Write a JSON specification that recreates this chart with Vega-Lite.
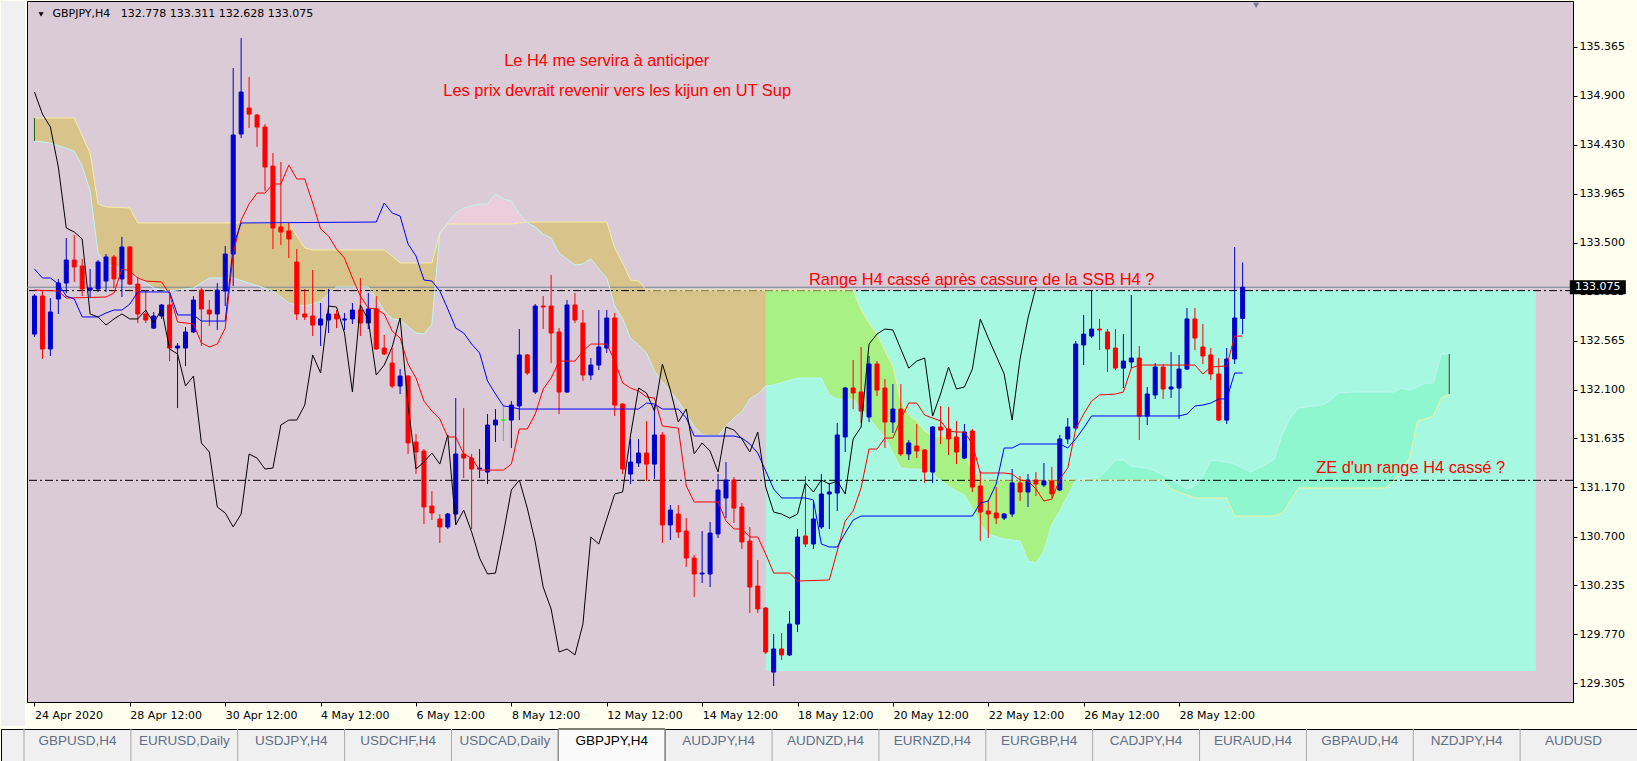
{
"$schema":"https://vega.github.io/schema/vega-lite/v6.json",
"background":"#FFFFF0",
"padding":0,
"autosize":{"type":"pad"},
"config":{"view":{"stroke":null},"font":"DejaVu Sans"},
"datasets":{
"candles":[
{"i":0,"o":132.629,"h":133.010,"l":132.601,"c":132.991,"ck":134.934},
{"i":1,"o":132.991,"h":133.039,"l":132.392,"c":132.487,"ck":134.724},
{"i":2,"o":132.487,"h":132.972,"l":132.420,"c":132.839,"ck":134.601},
{"i":3,"o":132.963,"h":133.154,"l":132.820,"c":133.115,"ck":134.220},
{"i":4,"o":133.115,"h":133.544,"l":133.020,"c":133.334,"ck":133.639},
{"i":5,"o":133.334,"h":133.573,"l":133.125,"c":133.268,"ck":133.601},
{"i":6,"o":133.277,"h":133.344,"l":132.991,"c":133.058,"ck":133.535},
{"i":7,"o":133.048,"h":133.249,"l":132.972,"c":133.067,"ck":132.820},
{"i":8,"o":133.058,"h":133.334,"l":133.030,"c":133.315,"ck":132.792},
{"i":9,"o":133.134,"h":133.391,"l":133.030,"c":133.363,"ck":132.715},
{"i":10,"o":133.363,"h":133.382,"l":133.067,"c":133.154,"ck":132.773},
{"i":11,"o":133.154,"h":133.554,"l":132.982,"c":133.458,"ck":132.820},
{"i":12,"o":133.458,"h":133.467,"l":133.096,"c":133.105,"ck":132.773},
{"i":13,"o":133.105,"h":133.173,"l":132.734,"c":132.820,"ck":132.773},
{"i":14,"o":132.820,"h":133.048,"l":132.734,"c":132.763,"ck":132.858},
{"i":15,"o":132.686,"h":132.839,"l":132.677,"c":132.801,"ck":132.734},
{"i":16,"o":132.801,"h":132.915,"l":132.773,"c":132.906,"ck":132.868},
{"i":17,"o":132.906,"h":133.010,"l":132.372,"c":132.496,"ck":132.487},
{"i":18,"o":132.496,"h":132.544,"l":131.924,"c":132.515,"ck":132.439},
{"i":19,"o":132.496,"h":132.696,"l":132.324,"c":132.649,"ck":132.134},
{"i":20,"o":132.649,"h":132.991,"l":132.639,"c":132.953,"ck":132.229},
{"i":21,"o":133.048,"h":133.067,"l":132.515,"c":132.868,"ck":131.592},
{"i":22,"o":132.858,"h":132.953,"l":132.706,"c":132.820,"ck":131.506},
{"i":23,"o":132.820,"h":133.115,"l":132.668,"c":133.048,"ck":130.982},
{"i":24,"o":133.039,"h":133.467,"l":132.896,"c":133.391,"ck":130.925},
{"i":25,"o":133.391,"h":135.163,"l":133.087,"c":134.525,"ck":130.792},
{"i":26,"o":134.534,"h":135.448,"l":134.496,"c":134.934,"ck":130.915},
{"i":27,"o":134.782,"h":135.077,"l":134.591,"c":134.724,"ck":131.487},
{"i":28,"o":134.715,"h":134.724,"l":134.411,"c":134.601,"ck":131.448},
{"i":29,"o":134.601,"h":134.629,"l":133.991,"c":134.220,"ck":131.344},
{"i":30,"o":134.229,"h":134.353,"l":133.439,"c":133.639,"ck":131.353},
{"i":31,"o":133.649,"h":134.268,"l":133.477,"c":133.601,"ck":131.763},
{"i":32,"o":133.611,"h":133.687,"l":133.353,"c":133.535,"ck":131.810},
{"i":33,"o":133.315,"h":133.439,"l":132.763,"c":132.820,"ck":131.810},
{"i":34,"o":132.820,"h":133.058,"l":132.763,"c":132.792,"ck":131.953},
{"i":35,"o":132.801,"h":133.239,"l":132.610,"c":132.715,"ck":132.430},
{"i":36,"o":132.715,"h":132.925,"l":132.515,"c":132.773,"ck":132.258},
{"i":37,"o":132.763,"h":133.058,"l":132.639,"c":132.820,"ck":132.896},
{"i":38,"o":132.820,"h":132.858,"l":132.686,"c":132.773,"ck":132.887},
{"i":39,"o":132.763,"h":132.830,"l":132.668,"c":132.773,"ck":132.639},
{"i":40,"o":132.773,"h":132.925,"l":132.725,"c":132.858,"ck":132.077},
{"i":41,"o":132.858,"h":133.163,"l":132.610,"c":132.734,"ck":132.906},
{"i":42,"o":132.734,"h":133.020,"l":132.677,"c":132.868,"ck":132.763},
{"i":43,"o":132.868,"h":132.991,"l":132.477,"c":132.487,"ck":132.239},
{"i":44,"o":132.496,"h":132.620,"l":132.430,"c":132.439,"ck":132.334},
{"i":45,"o":132.353,"h":132.496,"l":132.115,"c":132.134,"ck":132.506},
{"i":46,"o":132.134,"h":132.296,"l":132.058,"c":132.229,"ck":132.782},
{"i":47,"o":132.229,"h":132.239,"l":131.487,"c":131.592,"ck":131.953},
{"i":48,"o":131.601,"h":131.677,"l":131.296,"c":131.506,"ck":131.344},
{"i":49,"o":131.515,"h":131.534,"l":130.820,"c":130.982,"ck":131.410},
{"i":50,"o":130.991,"h":131.134,"l":130.858,"c":130.925,"ck":131.496},
{"i":51,"o":130.868,"h":130.915,"l":130.639,"c":130.792,"ck":131.391},
{"i":52,"o":130.792,"h":130.925,"l":130.773,"c":130.915,"ck":131.668},
{"i":53,"o":130.915,"h":132.020,"l":130.820,"c":131.487,"ck":130.811},
{"i":54,"o":131.487,"h":131.924,"l":131.258,"c":131.448,"ck":130.953},
{"i":55,"o":131.448,"h":131.487,"l":130.773,"c":131.344,"ck":130.744},
{"i":56,"o":131.344,"h":131.534,"l":131.258,"c":131.353,"ck":130.496},
{"i":57,"o":131.315,"h":131.867,"l":131.201,"c":131.763,"ck":130.344},
{"i":58,"o":131.763,"h":131.915,"l":131.601,"c":131.810,"ck":130.353},
{"i":59,"o":131.810,"h":131.944,"l":131.611,"c":131.810,"ck":130.734},
{"i":60,"o":131.810,"h":131.991,"l":131.544,"c":131.953,"ck":131.144},
{"i":61,"o":131.944,"h":132.677,"l":131.810,"c":132.430,"ck":131.239},
{"i":62,"o":132.430,"h":132.439,"l":132.239,"c":132.258,"ck":130.972},
{"i":63,"o":132.077,"h":132.915,"l":132.058,"c":132.896,"ck":130.649},
{"i":64,"o":132.896,"h":132.991,"l":132.677,"c":132.887,"ck":130.220},
{"i":65,"o":132.896,"h":133.192,"l":132.353,"c":132.639,"ck":130.011},
{"i":66,"o":132.649,"h":132.686,"l":131.867,"c":132.077,"ck":129.601},
{"i":67,"o":132.077,"h":132.953,"l":132.068,"c":132.906,"ck":129.630},
{"i":68,"o":132.906,"h":133.020,"l":132.734,"c":132.763,"ck":129.573},
{"i":69,"o":132.734,"h":132.858,"l":132.182,"c":132.239,"ck":129.867},
{"i":70,"o":132.239,"h":132.401,"l":132.191,"c":132.334,"ck":130.696},
{"i":71,"o":132.334,"h":132.858,"l":132.286,"c":132.506,"ck":130.630},
{"i":72,"o":132.496,"h":132.858,"l":132.449,"c":132.782,"ck":130.868},
{"i":73,"o":132.782,"h":132.830,"l":131.848,"c":131.953,"ck":131.106},
{"i":74,"o":131.962,"h":131.972,"l":131.296,"c":131.344,"ck":131.125},
{"i":75,"o":131.296,"h":131.630,"l":131.201,"c":131.410,"ck":131.668},
{"i":76,"o":131.401,"h":131.630,"l":131.363,"c":131.496,"ck":132.115},
{"i":77,"o":131.496,"h":131.801,"l":131.230,"c":131.391,"ck":132.068},
{"i":78,"o":131.391,"h":131.953,"l":131.249,"c":131.668,"ck":131.896},
{"i":79,"o":131.668,"h":131.696,"l":130.639,"c":130.811,"ck":132.344},
{"i":80,"o":130.811,"h":131.001,"l":130.668,"c":130.953,"ck":132.096},
{"i":81,"o":130.915,"h":131.001,"l":130.687,"c":130.744,"ck":131.791},
{"i":82,"o":130.753,"h":130.877,"l":130.411,"c":130.496,"ck":131.915},
{"i":83,"o":130.496,"h":130.525,"l":130.125,"c":130.344,"ck":131.487},
{"i":84,"o":130.344,"h":130.753,"l":130.258,"c":130.353,"ck":131.592},
{"i":85,"o":130.344,"h":130.839,"l":130.220,"c":130.734,"ck":131.515},
{"i":86,"o":130.725,"h":131.296,"l":130.687,"c":131.144,"ck":131.315},
{"i":87,"o":131.068,"h":131.410,"l":130.877,"c":131.239,"ck":131.744},
{"i":88,"o":131.239,"h":131.268,"l":130.830,"c":130.972,"ck":131.715},
{"i":89,"o":130.982,"h":131.020,"l":130.582,"c":130.649,"ck":131.630},
{"i":90,"o":130.658,"h":130.792,"l":129.972,"c":130.220,"ck":131.506},
{"i":91,"o":130.229,"h":130.477,"l":129.972,"c":130.011,"ck":131.696},
{"i":92,"o":130.020,"h":130.030,"l":129.582,"c":129.601,"ck":131.172},
{"i":93,"o":129.410,"h":129.772,"l":129.277,"c":129.630,"ck":130.934},
{"i":94,"o":129.630,"h":129.782,"l":129.525,"c":129.573,"ck":130.915},
{"i":95,"o":129.573,"h":129.991,"l":129.563,"c":129.867,"ck":130.877},
{"i":96,"o":129.867,"h":130.773,"l":129.791,"c":130.696,"ck":130.915},
{"i":97,"o":130.706,"h":131.277,"l":130.601,"c":130.630,"ck":131.211},
{"i":98,"o":130.630,"h":131.039,"l":130.582,"c":130.868,"ck":131.125},
{"i":99,"o":130.792,"h":131.296,"l":130.773,"c":131.106,"ck":131.239},
{"i":100,"o":131.106,"h":131.211,"l":130.773,"c":131.125,"ck":131.201},
{"i":101,"o":131.115,"h":131.782,"l":130.944,"c":131.668,"ck":131.230},
{"i":102,"o":131.649,"h":132.125,"l":131.506,"c":132.115,"ck":131.106},
{"i":103,"o":132.115,"h":132.382,"l":131.915,"c":132.068,"ck":131.630},
{"i":104,"o":132.077,"h":132.506,"l":131.782,"c":131.896,"ck":131.744},
{"i":105,"o":131.839,"h":132.420,"l":131.791,"c":132.344,"ck":132.534},
{"i":106,"o":132.344,"h":132.372,"l":132.039,"c":132.096,"ck":132.629},
{"i":107,"o":132.115,"h":132.201,"l":131.544,"c":131.791,"ck":132.677},
{"i":108,"o":131.791,"h":132.153,"l":131.687,"c":131.915,"ck":132.668},
{"i":109,"o":131.915,"h":132.153,"l":131.468,"c":131.487,"ck":132.487},
{"i":110,"o":131.487,"h":131.620,"l":131.430,"c":131.592,"ck":132.305},
{"i":111,"o":131.563,"h":131.772,"l":131.448,"c":131.515,"ck":132.372},
{"i":112,"o":131.525,"h":131.534,"l":131.211,"c":131.315,"ck":132.401},
{"i":113,"o":131.315,"h":131.753,"l":131.211,"c":131.744,"ck":131.848},
{"i":114,"o":131.744,"h":131.944,"l":131.582,"c":131.715,"ck":132.058},
{"i":115,"o":131.725,"h":131.934,"l":131.477,"c":131.630,"ck":132.315},
{"i":116,"o":131.649,"h":131.801,"l":131.391,"c":131.506,"ck":132.106},
{"i":117,"o":131.448,"h":131.772,"l":131.439,"c":131.696,"ck":132.125},
{"i":118,"o":131.706,"h":131.725,"l":131.125,"c":131.172,"ck":132.296},
{"i":119,"o":131.182,"h":131.325,"l":130.658,"c":130.934,"ck":132.773},
{"i":120,"o":130.944,"h":131.049,"l":130.687,"c":130.915,"ck":132.591},
{"i":121,"o":130.925,"h":131.172,"l":130.820,"c":130.877,"ck":132.420},
{"i":122,"o":130.877,"h":130.925,"l":130.858,"c":130.915,"ck":132.249},
{"i":123,"o":130.915,"h":131.344,"l":130.887,"c":131.211,"ck":131.810},
{"i":124,"o":131.211,"h":131.277,"l":131.039,"c":131.125,"ck":132.392},
{"i":125,"o":131.125,"h":131.296,"l":130.982,"c":131.239,"ck":132.782},
{"i":126,"o":131.239,"h":131.315,"l":131.087,"c":131.201,"ck":133.075},
{"i":127,"o":131.192,"h":131.401,"l":131.172,"c":131.230},
{"i":128,"o":131.230,"h":131.363,"l":131.068,"c":131.106},
{"i":129,"o":131.144,"h":131.668,"l":131.134,"c":131.630},
{"i":130,"o":131.630,"h":131.829,"l":131.582,"c":131.744},
{"i":131,"o":131.734,"h":132.563,"l":131.715,"c":132.534},
{"i":132,"o":132.525,"h":132.811,"l":132.334,"c":132.629},
{"i":133,"o":132.610,"h":133.048,"l":132.591,"c":132.677},
{"i":134,"o":132.677,"h":132.773,"l":132.477,"c":132.668},
{"i":135,"o":132.649,"h":132.677,"l":132.268,"c":132.487},
{"i":136,"o":132.496,"h":132.677,"l":132.286,"c":132.305},
{"i":137,"o":132.305,"h":132.629,"l":132.115,"c":132.372},
{"i":138,"o":132.363,"h":133.001,"l":132.305,"c":132.401},
{"i":139,"o":132.401,"h":132.515,"l":131.620,"c":131.848},
{"i":140,"o":131.848,"h":132.125,"l":131.763,"c":132.058},
{"i":141,"o":132.049,"h":132.353,"l":132.011,"c":132.315},
{"i":142,"o":132.315,"h":132.344,"l":132.011,"c":132.106},
{"i":143,"o":132.106,"h":132.458,"l":132.020,"c":132.125},
{"i":144,"o":132.115,"h":132.430,"l":131.820,"c":132.296},
{"i":145,"o":132.296,"h":132.877,"l":132.286,"c":132.773},
{"i":146,"o":132.773,"h":132.877,"l":132.477,"c":132.591},
{"i":147,"o":132.506,"h":132.725,"l":132.344,"c":132.420},
{"i":148,"o":132.430,"h":132.496,"l":132.191,"c":132.249},
{"i":149,"o":132.249,"h":132.401,"l":131.801,"c":131.810},
{"i":150,"o":131.810,"h":132.496,"l":131.772,"c":132.392},
{"i":151,"o":132.392,"h":133.458,"l":132.344,"c":132.782},
{"i":152,"o":132.778,"h":133.311,"l":132.628,"c":133.075}
],
"tenkan":[
{"i":0,"v":133.048},{"i":3,"v":133.039},{"i":4,"v":132.972},{"i":9,"v":132.982},{"i":10,"v":133.020},{"i":11,"v":133.249},{"i":12,"v":133.230},{"i":13,"v":133.163},{"i":14,"v":133.134},{"i":16,"v":133.125},{"i":17,"v":133.010},{"i":18,"v":132.744},{"i":20,"v":132.725},{"i":21,"v":132.544},{"i":22,"v":132.506},{"i":23,"v":132.534},{"i":24,"v":132.686},{"i":25,"v":133.391},{"i":26,"v":133.715},{"i":27,"v":133.868},{"i":28,"v":133.972},{"i":29,"v":133.972},{"i":30,"v":134.058},{"i":31,"v":134.058},{"i":32,"v":134.239},{"i":33,"v":134.106},{"i":34,"v":134.106},{"i":35,"v":133.877},{"i":36,"v":133.630},{"i":37,"v":133.563},{"i":38,"v":133.439},{"i":39,"v":133.353},{"i":40,"v":133.163},{"i":41,"v":132.991},{"i":42,"v":132.877},{"i":43,"v":132.868},{"i":44,"v":132.820},{"i":45,"v":132.658},{"i":46,"v":132.591},{"i":47,"v":132.344},{"i":48,"v":132.210},{"i":49,"v":131.991},{"i":50,"v":131.896},{"i":51,"v":131.820},{"i":52,"v":131.649},{"i":53,"v":131.649},{"i":54,"v":131.487},{"i":55,"v":131.448},{"i":56,"v":131.334},{"i":59,"v":131.334},{"i":60,"v":131.391},{"i":61,"v":131.725},{"i":62,"v":131.725},{"i":63,"v":131.867},{"i":64,"v":132.106},{"i":65,"v":132.210},{"i":66,"v":132.372},{"i":68,"v":132.372},{"i":69,"v":132.468},{"i":70,"v":132.534},{"i":72,"v":132.534},{"i":73,"v":132.372},{"i":74,"v":132.163},{"i":75,"v":132.115},{"i":76,"v":132.087},{"i":77,"v":132.030},{"i":78,"v":132.020},{"i":79,"v":131.753},{"i":81,"v":131.734},{"i":82,"v":131.182},{"i":83,"v":131.030},{"i":86,"v":131.030},{"i":87,"v":130.849},{"i":88,"v":130.773},{"i":89,"v":130.773},{"i":90,"v":130.696},{"i":91,"v":130.696},{"i":92,"v":130.534},{"i":93,"v":130.353},{"i":95,"v":130.353},{"i":96,"v":130.277},{"i":100,"v":130.287},{"i":101,"v":130.563},{"i":102,"v":130.849},{"i":103,"v":130.944},{"i":104,"v":131.163},{"i":105,"v":131.534},{"i":106,"v":131.534},{"i":107,"v":131.639},{"i":108,"v":131.639},{"i":109,"v":131.820},{"i":110,"v":131.972},{"i":111,"v":131.972},{"i":112,"v":131.858},{"i":113,"v":131.830},{"i":114,"v":131.801},{"i":115,"v":131.706},{"i":116,"v":131.696},{"i":117,"v":131.696},{"i":118,"v":131.582},{"i":119,"v":131.306},{"i":122,"v":131.306},{"i":123,"v":131.296},{"i":124,"v":131.239},{"i":125,"v":131.230},{"i":126,"v":131.153},{"i":127,"v":131.039},{"i":128,"v":131.058},{"i":129,"v":131.249},{"i":130,"v":131.353},{"i":131,"v":131.725},{"i":132,"v":131.867},{"i":133,"v":131.991},{"i":134,"v":132.049},{"i":136,"v":132.058},{"i":137,"v":132.077},{"i":138,"v":132.305},{"i":139,"v":132.334},{"i":146,"v":132.334},{"i":147,"v":132.249},{"i":148,"v":132.315},{"i":150,"v":132.325},{"i":151,"v":132.610},{"i":152,"v":132.610}
],
"kijun":[
{"i":0,"v":133.249},{"i":1,"v":133.163},{"i":2,"v":133.163},{"i":3,"v":133.106},{"i":4,"v":132.991},{"i":5,"v":132.963},{"i":6,"v":132.792},{"i":8,"v":132.792},{"i":9,"v":132.830},{"i":10,"v":132.858},{"i":11,"v":132.858},{"i":12,"v":132.915},{"i":13,"v":133.030},{"i":17,"v":133.030},{"i":18,"v":132.811},{"i":20,"v":132.811},{"i":21,"v":132.753},{"i":24,"v":132.753},{"i":25,"v":133.468},{"i":26,"v":133.687},{"i":43,"v":133.696},{"i":44,"v":133.877},{"i":45,"v":133.782},{"i":46,"v":133.753},{"i":47,"v":133.487},{"i":48,"v":133.372},{"i":49,"v":133.144},{"i":50,"v":133.134},{"i":51,"v":133.039},{"i":52,"v":132.868},{"i":53,"v":132.686},{"i":54,"v":132.639},{"i":55,"v":132.534},{"i":56,"v":132.449},{"i":57,"v":132.182},{"i":58,"v":132.058},{"i":59,"v":131.944},{"i":60,"v":131.934},{"i":61,"v":131.915},{"i":76,"v":131.915},{"i":77,"v":131.972},{"i":78,"v":131.962},{"i":79,"v":131.915},{"i":81,"v":131.915},{"i":82,"v":131.830},{"i":83,"v":131.658},{"i":88,"v":131.658},{"i":89,"v":131.639},{"i":90,"v":131.582},{"i":91,"v":131.496},{"i":92,"v":131.325},{"i":93,"v":131.153},{"i":94,"v":131.068},{"i":97,"v":131.068},{"i":98,"v":131.049},{"i":99,"v":130.630},{"i":100,"v":130.601},{"i":101,"v":130.601},{"i":102,"v":130.734},{"i":103,"v":130.858},{"i":104,"v":130.896},{"i":118,"v":130.896},{"i":119,"v":131.020},{"i":120,"v":131.039},{"i":121,"v":131.201},{"i":122,"v":131.544},{"i":123,"v":131.544},{"i":124,"v":131.582},{"i":129,"v":131.582},{"i":130,"v":131.544},{"i":131,"v":131.630},{"i":132,"v":131.734},{"i":133,"v":131.849},{"i":144,"v":131.849},{"i":145,"v":131.867},{"i":146,"v":131.944},{"i":147,"v":131.953},{"i":148,"v":131.972},{"i":149,"v":132.011},{"i":150,"v":132.011},{"i":151,"v":132.258},{"i":152,"v":132.258}
],
"cloud":[
{"i":0,"a":134.687,"b":134.468},{"i":2,"a":134.687,"b":134.449},{"i":5,"a":134.687,"b":134.372},{"i":6,"a":134.515,"b":134.229},{"i":7,"a":134.353,"b":133.991},{"i":8,"a":133.868,"b":133.401},{"i":9,"a":133.839,"b":133.296},{"i":12,"a":133.830,"b":133.230},{"i":13,"a":133.687,"b":133.173},{"i":15,"a":133.687,"b":133.067},{"i":17,"a":133.687,"b":133.039},{"i":20,"a":133.687,"b":133.067},{"i":22,"a":133.687,"b":133.163},{"i":25,"a":133.687,"b":133.163},{"i":27,"a":133.687,"b":133.115},{"i":30,"a":133.687,"b":133.039},{"i":32,"a":133.687,"b":132.925},{"i":33,"a":133.563,"b":132.906},{"i":34,"a":133.449,"b":132.896},{"i":35,"a":133.430,"b":132.915},{"i":36,"a":133.430,"b":132.944},{"i":38,"a":133.430,"b":133.077},{"i":42,"a":133.430,"b":133.077},{"i":43,"a":133.430,"b":132.972},{"i":44,"a":133.430,"b":132.849},{"i":45,"a":133.372,"b":132.773},{"i":46,"a":133.306,"b":132.763},{"i":48,"a":133.306,"b":132.639},{"i":49,"a":133.306,"b":132.629},{"i":50,"a":133.306,"b":132.725},{"i":51,"a":133.592,"b":133.592},{"i":52,"a":133.677,"b":133.687},{"i":53,"a":133.677,"b":133.782},{"i":54,"a":133.677,"b":133.830},{"i":56,"a":133.677,"b":133.868},{"i":57,"a":133.677,"b":133.868},{"i":58,"a":133.677,"b":133.963},{"i":59,"a":133.677,"b":133.915},{"i":60,"a":133.677,"b":133.896},{"i":61,"a":133.687,"b":133.772},{"i":62,"a":133.696,"b":133.687},{"i":63,"a":133.696,"b":133.649},{"i":64,"a":133.696,"b":133.582},{"i":65,"a":133.696,"b":133.544},{"i":66,"a":133.696,"b":133.401},{"i":67,"a":133.696,"b":133.344},{"i":68,"a":133.696,"b":133.287},{"i":69,"a":133.696,"b":133.296},{"i":70,"a":133.696,"b":133.344},{"i":71,"a":133.696,"b":133.249},{"i":72,"a":133.696,"b":133.163},{"i":73,"a":133.449,"b":132.896},{"i":74,"a":133.306,"b":132.773},{"i":75,"a":133.144,"b":132.591},{"i":76,"a":133.134,"b":132.525},{"i":77,"a":133.048,"b":132.449},{"i":78,"a":133.048,"b":132.277},{"i":79,"a":133.048,"b":132.172},{"i":80,"a":133.048,"b":132.087},{"i":81,"a":133.048,"b":131.991},{"i":82,"a":133.048,"b":131.868},{"i":83,"a":133.048,"b":131.753},{"i":84,"a":133.048,"b":131.668},{"i":86,"a":133.048,"b":131.658},{"i":87,"a":133.048,"b":131.753},{"i":88,"a":133.048,"b":131.830},{"i":89,"a":133.048,"b":131.887},{"i":90,"a":133.048,"b":132.011},{"i":91,"a":133.048,"b":132.058},{"i":92,"a":133.048,"b":132.134},{"i":93,"a":133.048,"b":132.144},{"i":96,"a":133.048,"b":132.210},{"i":99,"a":133.048,"b":132.210},{"i":100,"a":133.048,"b":132.049},{"i":101,"a":133.048,"b":132.011},{"i":103,"a":133.048,"b":132.011},{"i":104,"a":132.858,"b":131.915},{"i":105,"a":132.734,"b":131.830},{"i":106,"a":132.629,"b":131.734},{"i":107,"a":132.468,"b":131.649},{"i":108,"a":132.325,"b":131.496},{"i":109,"a":131.991,"b":131.353},{"i":110,"a":131.858,"b":131.344},{"i":111,"a":131.801,"b":131.344},{"i":112,"a":131.706,"b":131.334},{"i":113,"a":131.658,"b":131.296},{"i":115,"a":131.649,"b":131.182},{"i":116,"a":131.649,"b":131.134},{"i":117,"a":131.496,"b":131.096},{"i":118,"a":131.325,"b":130.972},{"i":119,"a":131.239,"b":130.820},{"i":120,"a":131.239,"b":130.725},{"i":122,"a":131.239,"b":130.677},{"i":124,"a":131.239,"b":130.658},{"i":125,"a":131.239,"b":130.468},{"i":126,"a":131.239,"b":130.449},{"i":127,"a":131.239,"b":130.563},{"i":128,"a":131.239,"b":130.820},{"i":129,"a":131.239,"b":130.944},{"i":131,"a":131.239,"b":131.236},{"i":132,"a":131.239,"b":131.249},{"i":133,"a":131.239,"b":131.258},{"i":134,"a":131.239,"b":131.268},{"i":135,"a":131.239,"b":131.344},{"i":136,"a":131.239,"b":131.430},{"i":137,"a":131.239,"b":131.430},{"i":138,"a":131.239,"b":131.372},{"i":140,"a":131.239,"b":131.353},{"i":141,"a":131.239,"b":131.325},{"i":142,"a":131.239,"b":131.287},{"i":143,"a":131.153,"b":131.249},{"i":144,"a":131.125,"b":131.201},{"i":145,"a":131.096,"b":131.153},{"i":146,"a":131.068,"b":131.182},{"i":147,"a":131.068,"b":131.277},{"i":148,"a":131.068,"b":131.430},{"i":149,"a":131.068,"b":131.420},{"i":150,"a":131.068,"b":131.410},{"i":151,"a":130.896,"b":131.391},{"i":153,"a":130.896,"b":131.315},{"i":155,"a":130.896,"b":131.391},{"i":156,"a":130.896,"b":131.439},{"i":157,"a":130.925,"b":131.677},{"i":158,"a":131.039,"b":131.830},{"i":159,"a":131.163,"b":131.925},{"i":162,"a":131.163,"b":131.953},{"i":163,"a":131.163,"b":131.991},{"i":164,"a":131.163,"b":132.068},{"i":166,"a":131.163,"b":132.077},{"i":170,"a":131.163,"b":132.077},{"i":171,"a":131.230,"b":132.077},{"i":172,"a":131.353,"b":132.115},{"i":173,"a":131.448,"b":132.096},{"i":174,"a":131.801,"b":132.125},{"i":175,"a":131.820,"b":132.163},{"i":176,"a":131.849,"b":132.163},{"i":177,"a":132.020,"b":132.439},{"i":178,"a":132.058,"b":132.439}
],
"levels":[{"p":133.043},{"p":131.236}],
"box":[{"i1":92,"i2":188.9,"top":133.043,"bottom":129.42}],
"notes":[
{"t":"Le H4 me servira à anticiper","i":59.1,"p":135.225},
{"t":"Les prix devrait revenir vers les kijun en UT Sup","i":51.44,"p":134.947},
{"t":"Range H4 cassé après cassure de la SSB H4 ?","i":97.44,"p":133.141},
{"t":"ZE d'un range H4 cassé ?","i":161.25,"p":131.356}
],
"tabs":[{"n":"GBPUSD,H4"},{"n":"EURUSD,Daily"},{"n":"USDJPY,H4"},{"n":"USDCHF,H4"},{"n":"USDCAD,Daily"},{"n":"GBPJPY,H4"},{"n":"AUDJPY,H4"},{"n":"AUDNZD,H4"},{"n":"EURNZD,H4"},{"n":"EURGBP,H4"},{"n":"CADJPY,H4"},{"n":"EURAUD,H4"},{"n":"GBPAUD,H4"},{"n":"NZDJPY,H4"},{"n":"AUDUSD"}]
},
"vconcat":[
{"hconcat":[
{"width":24,"height":725,"view":{"fill":"#F0F0F0","stroke":null},"data":{"values":[{}]},"mark":{"type":"text","text":" "}},
{"width":1546,"height":701,"view":{"fill":"#DBCBD6","stroke":"#000000"},
"resolve":{"axis":{"x":"independent","y":"independent"}},
"layer":[
{"data":{"name":"box"},"mark":{"type":"rect","color":"#A6F8E0"},
 "encoding":{
  "x":{"field":"i1","type":"quantitative","scale":{"domain":[-0.3125,192.9375],"nice":false,"zero":false},
   "axis":{"orient":"bottom","values":[0,12,24,36,48,60,72,84,96,108,120,132,144],
    "labelExpr":"['24 Apr 2020','28 Apr 12:00','30 Apr 12:00','4 May 12:00','6 May 12:00','8 May 12:00','12 May 12:00','14 May 12:00','18 May 12:00','20 May 12:00','22 May 12:00','26 May 12:00','28 May 12:00'][round(datum.value/12)]",
    "labelAlign":"left","labelBaseline":"top","labelPadding":3,"tickSize":4,"tickColor":"#000000","domainColor":"#000000","labelColor":"#000000","labelFont":"DejaVu Sans","labelFontSize":11,"labelFlush":false,"labelOverlap":false,"grid":false,"title":null}},
  "x2":{"field":"i2"},
  "y":{"field":"top","type":"quantitative","scale":{"domain":[129.125,135.801],"nice":false,"zero":false},
   "axis":{"orient":"right","values":[129.305,129.77,130.235,130.7,131.17,131.635,132.1,132.565,133.035,133.5,133.965,134.43,134.9,135.365],
    "format":".3f","labelPadding":2,"tickSize":4,"tickColor":"#000000","domainColor":"#000000","labelColor":"#000000","labelFont":"DejaVu Sans","labelFontSize":11,"labelFlush":false,"labelOverlap":false,"grid":false,"title":null}},
  "y2":{"field":"bottom"}}},
{"data":{"name":"cloud"},"transform":[{"filter":"datum.i <= 51"}],"mark":{"type":"area","color":"#D8C38B"},
 "encoding":{"x":{"field":"i","type":"quantitative","scale":{"domain":[-0.3125,192.9375],"nice":false,"zero":false},"axis":null},"y":{"field":"a","type":"quantitative","scale":{"domain":[129.125,135.801],"nice":false,"zero":false},"axis":null},"y2":{"field":"b"}}},
{"data":{"name":"cloud"},"transform":[{"filter":"datum.i >= 51 && datum.i <= 62"}],"mark":{"type":"area","color":"#EBCDDC"},
 "encoding":{"x":{"field":"i","type":"quantitative","scale":{"domain":[-0.3125,192.9375],"nice":false,"zero":false},"axis":null},"y":{"field":"a","type":"quantitative","scale":{"domain":[129.125,135.801],"nice":false,"zero":false},"axis":null},"y2":{"field":"b"}}},
{"data":{"name":"cloud"},"transform":[{"filter":"datum.i >= 62 && datum.i <= 92"}],"mark":{"type":"area","color":"#D8C38B"},
 "encoding":{"x":{"field":"i","type":"quantitative","scale":{"domain":[-0.3125,192.9375],"nice":false,"zero":false},"axis":null},"y":{"field":"a","type":"quantitative","scale":{"domain":[129.125,135.801],"nice":false,"zero":false},"axis":null},"y2":{"field":"b"}}},
{"data":{"name":"cloud"},"transform":[{"filter":"datum.i >= 92 && datum.i <= 131"}],"mark":{"type":"area","color":"#A7F185"},
 "encoding":{"x":{"field":"i","type":"quantitative","scale":{"domain":[-0.3125,192.9375],"nice":false,"zero":false},"axis":null},"y":{"field":"a","type":"quantitative","scale":{"domain":[129.125,135.801],"nice":false,"zero":false},"axis":null},"y2":{"field":"b"}}},
{"data":{"name":"cloud"},"transform":[{"filter":"datum.i >= 131"}],"mark":{"type":"area","color":"#8FF7CF"},
 "encoding":{"x":{"field":"i","type":"quantitative","scale":{"domain":[-0.3125,192.9375],"nice":false,"zero":false},"axis":null},"y":{"field":"a","type":"quantitative","scale":{"domain":[129.125,135.801],"nice":false,"zero":false},"axis":null},"y2":{"field":"b"}}},
{"data":{"name":"levels"},"mark":{"type":"rule","color":"#000000","strokeWidth":1,"strokeDash":[8,3,2,3]},
 "encoding":{"y":{"field":"p","type":"quantitative","scale":{"domain":[129.125,135.801],"nice":false,"zero":false},"axis":null}}},
{"data":{"values":[{"p":133.075}]},"mark":{"type":"rule","color":"#778899","strokeWidth":1},
 "encoding":{"y":{"field":"p","type":"quantitative","scale":{"domain":[129.125,135.801],"nice":false,"zero":false},"axis":null}}},
{"data":{"name":"cloud"},"mark":{"type":"line","color":"#F6EFA0","strokeWidth":1},
 "encoding":{"x":{"field":"i","type":"quantitative","scale":{"domain":[-0.3125,192.9375],"nice":false,"zero":false},"axis":null},"y":{"field":"a","type":"quantitative","scale":{"domain":[129.125,135.801],"nice":false,"zero":false},"axis":null}}},
{"data":{"name":"cloud"},"mark":{"type":"line","color":"#C2F5F5","strokeWidth":1},
 "encoding":{"x":{"field":"i","type":"quantitative","scale":{"domain":[-0.3125,192.9375],"nice":false,"zero":false},"axis":null},"y":{"field":"b","type":"quantitative","scale":{"domain":[129.125,135.801],"nice":false,"zero":false},"axis":null}}},
{"data":{"name":"cloud"},"transform":[{"filter":"datum.i == 178"}],"mark":{"type":"rule","color":"#8B1A1A","strokeWidth":1},
 "encoding":{"x":{"field":"i","type":"quantitative","scale":{"domain":[-0.3125,192.9375],"nice":false,"zero":false},"axis":null},"y":{"field":"a","type":"quantitative","scale":{"domain":[129.125,135.801],"nice":false,"zero":false},"axis":null},"y2":{"field":"b"}}},
{"data":{"name":"cloud"},"transform":[{"filter":"datum.i == 0"}],"mark":{"type":"rule","color":"#1F5F1F","strokeWidth":1},
 "encoding":{"x":{"field":"i","type":"quantitative","scale":{"domain":[-0.3125,192.9375],"nice":false,"zero":false},"axis":null},"y":{"field":"a","type":"quantitative","scale":{"domain":[129.125,135.801],"nice":false,"zero":false},"axis":null},"y2":{"field":"b"}}},
{"data":{"name":"candles"},"mark":{"type":"rule","strokeWidth":1},
 "encoding":{"x":{"field":"i","type":"quantitative","scale":{"domain":[-0.3125,192.9375],"nice":false,"zero":false},"axis":null},"y":{"field":"l","type":"quantitative","scale":{"domain":[129.125,135.801],"nice":false,"zero":false},"axis":null},"y2":{"field":"h"},
  "color":{"condition":[{"test":"datum.c > datum.o","value":"#0000CD"},{"test":"datum.c < datum.o","value":"#FF0000"}],"value":"#00FF00"}}},
{"data":{"name":"candles"},"mark":{"type":"bar","width":4,"strokeWidth":1},
 "encoding":{"x":{"field":"i","type":"quantitative","scale":{"domain":[-0.3125,192.9375],"nice":false,"zero":false},"axis":null},"y":{"field":"o","type":"quantitative","scale":{"domain":[129.125,135.801],"nice":false,"zero":false},"axis":null},"y2":{"field":"c"},
  "fill":{"condition":[{"test":"datum.c > datum.o","value":"#0000CD"},{"test":"datum.c < datum.o","value":"#FF0000"}],"value":"#00FF00"},
  "stroke":{"condition":[{"test":"datum.c > datum.o","value":"#0000CD"},{"test":"datum.c < datum.o","value":"#FF0000"}],"value":"#00FF00"}}},
{"data":{"name":"tenkan"},"mark":{"type":"line","color":"#FF0000","strokeWidth":1},
 "encoding":{"x":{"field":"i","type":"quantitative","scale":{"domain":[-0.3125,192.9375],"nice":false,"zero":false},"axis":null},"y":{"field":"v","type":"quantitative","scale":{"domain":[129.125,135.801],"nice":false,"zero":false},"axis":null}}},
{"data":{"name":"kijun"},"mark":{"type":"line","color":"#0000FF","strokeWidth":1},
 "encoding":{"x":{"field":"i","type":"quantitative","scale":{"domain":[-0.3125,192.9375],"nice":false,"zero":false},"axis":null},"y":{"field":"v","type":"quantitative","scale":{"domain":[129.125,135.801],"nice":false,"zero":false},"axis":null}}},
{"data":{"name":"candles"},"transform":[{"filter":"isValid(datum.ck)"}],"mark":{"type":"line","color":"#000000","strokeWidth":1},
 "encoding":{"x":{"field":"i","type":"quantitative","scale":{"domain":[-0.3125,192.9375],"nice":false,"zero":false},"axis":null},"y":{"field":"ck","type":"quantitative","scale":{"domain":[129.125,135.801],"nice":false,"zero":false},"axis":null}}},
{"data":{"name":"notes"},"mark":{"type":"text","align":"left","baseline":"middle","font":"Liberation Sans","fontSize":16.4,"color":"#FF0000"},
 "encoding":{"x":{"field":"i","type":"quantitative","scale":{"domain":[-0.3125,192.9375],"nice":false,"zero":false},"axis":null},"y":{"field":"p","type":"quantitative","scale":{"domain":[129.125,135.801],"nice":false,"zero":false},"axis":null},"text":{"field":"t"}}},
{"data":{"values":[{"t":"GBPJPY,H4\u00a0\u00a0\u00a0132.778 133.311 132.628 133.075"}]},"mark":{"type":"text","align":"left","baseline":"middle","font":"DejaVu Sans","fontSize":11,"color":"#000000"},
 "encoding":{"x":{"datum":2.26,"type":"quantitative","scale":{"domain":[-0.3125,192.9375],"nice":false,"zero":false},"axis":null},"y":{"datum":135.674,"type":"quantitative","scale":{"domain":[129.125,135.801],"nice":false,"zero":false},"axis":null},"text":{"field":"t"}}},
{"data":{"values":[{}]},"mark":{"type":"point","shape":"triangle-down","filled":true,"size":26,"color":"#000000","opacity":1},
 "encoding":{"x":{"datum":0.83,"type":"quantitative","scale":{"domain":[-0.3125,192.9375],"nice":false,"zero":false},"axis":null},"y":{"datum":135.674,"type":"quantitative","scale":{"domain":[129.125,135.801],"nice":false,"zero":false},"axis":null}}},
{"data":{"values":[{}]},"mark":{"type":"point","shape":"triangle-down","filled":true,"size":36,"color":"#6A7B95","opacity":1},
 "encoding":{"x":{"datum":153.7,"type":"quantitative","scale":{"domain":[-0.3125,192.9375],"nice":false,"zero":false},"axis":null},"y":{"datum":135.76,"type":"quantitative","scale":{"domain":[129.125,135.801],"nice":false,"zero":false},"axis":null}}},
{"data":{"values":[{"p":133.075}]},"mark":{"type":"tick","orient":"horizontal","size":56,"thickness":14,"color":"#000000","opacity":1,"clip":false},
 "encoding":{"x":{"datum":196.69,"type":"quantitative","scale":{"domain":[-0.3125,192.9375],"nice":false,"zero":false},"axis":null},"y":{"field":"p","type":"quantitative","scale":{"domain":[129.125,135.801],"nice":false,"zero":false},"axis":null}}},
{"data":{"values":[{"p":133.075}]},"mark":{"type":"text","align":"center","baseline":"middle","font":"DejaVu Sans","fontSize":11,"color":"#FFFFFF","clip":false},
 "encoding":{"x":{"datum":196.69,"type":"quantitative","scale":{"domain":[-0.3125,192.9375],"nice":false,"zero":false},"axis":null},"y":{"field":"p","type":"quantitative","scale":{"domain":[129.125,135.801],"nice":false,"zero":false},"axis":null},"text":{"field":"p","type":"quantitative","format":".3f"}}}
]}
],"spacing":2,"bounds":"flush"},
{"width":1637,"height":34,"view":{"fill":"#F0F0F0","stroke":"#000000"},"data":{"name":"tabs"},
"layer":[
{"mark":{"type":"text","font":"Liberation Sans","fontSize":13.5,"dy":-5},
 "encoding":{"x":{"field":"n","type":"nominal","sort":null,"scale":{"domain":["GBPUSD,H4","EURUSD,Daily","USDJPY,H4","USDCHF,H4","USDCAD,Daily","GBPJPY,H4","AUDJPY,H4","AUDNZD,H4","EURNZD,H4","EURGBP,H4","CADJPY,H4","EURAUD,H4","GBPAUD,H4","NZDJPY,H4","AUDUSD"],"range":[23,1626],"paddingInner":0,"paddingOuter":0},"axis":null},"text":{"field":"n"},
  "color":{"condition":{"test":"datum.n === 'GBPJPY,H4'","value":"#000000"},"value":"#5F6F86"}}},
{"transform":[{"filter":"datum.n === 'GBPJPY,H4'"}],"mark":{"type":"bar","fill":"#FAFAFA","stroke":"#000000","strokeWidth":1,"opacity":1},
 "encoding":{"x":{"field":"n","type":"nominal","sort":null,"scale":{"domain":["GBPUSD,H4","EURUSD,Daily","USDJPY,H4","USDCHF,H4","USDCAD,Daily","GBPJPY,H4","AUDJPY,H4","AUDNZD,H4","EURNZD,H4","EURGBP,H4","CADJPY,H4","EURAUD,H4","GBPAUD,H4","NZDJPY,H4","AUDUSD"],"range":[23,1626],"paddingInner":0,"paddingOuter":0},"axis":null}}},
{"mark":{"type":"rule","color":"#A8A8A8","strokeWidth":1},
 "encoding":{"x":{"field":"n","type":"nominal","sort":null,"bandPosition":0,"scale":{"domain":["GBPUSD,H4","EURUSD,Daily","USDJPY,H4","USDCHF,H4","USDCAD,Daily","GBPJPY,H4","AUDJPY,H4","AUDNZD,H4","EURNZD,H4","EURGBP,H4","CADJPY,H4","EURAUD,H4","GBPAUD,H4","NZDJPY,H4","AUDUSD"],"range":[23,1626],"paddingInner":0,"paddingOuter":0},"axis":null}}},
{"transform":[{"filter":"datum.n === 'GBPJPY,H4'"}],"mark":{"type":"text","font":"Liberation Sans","fontSize":13.5,"dy":-5,"color":"#000000"},
 "encoding":{"x":{"field":"n","type":"nominal","sort":null,"scale":{"domain":["GBPUSD,H4","EURUSD,Daily","USDJPY,H4","USDCHF,H4","USDCAD,Daily","GBPJPY,H4","AUDJPY,H4","AUDNZD,H4","EURNZD,H4","EURGBP,H4","CADJPY,H4","EURAUD,H4","GBPAUD,H4","NZDJPY,H4","AUDUSD"],"range":[23,1626],"paddingInner":0,"paddingOuter":0},"axis":null},"text":{"field":"n"}}}
]}
],
"spacing":2,
"bounds":"full"
}
